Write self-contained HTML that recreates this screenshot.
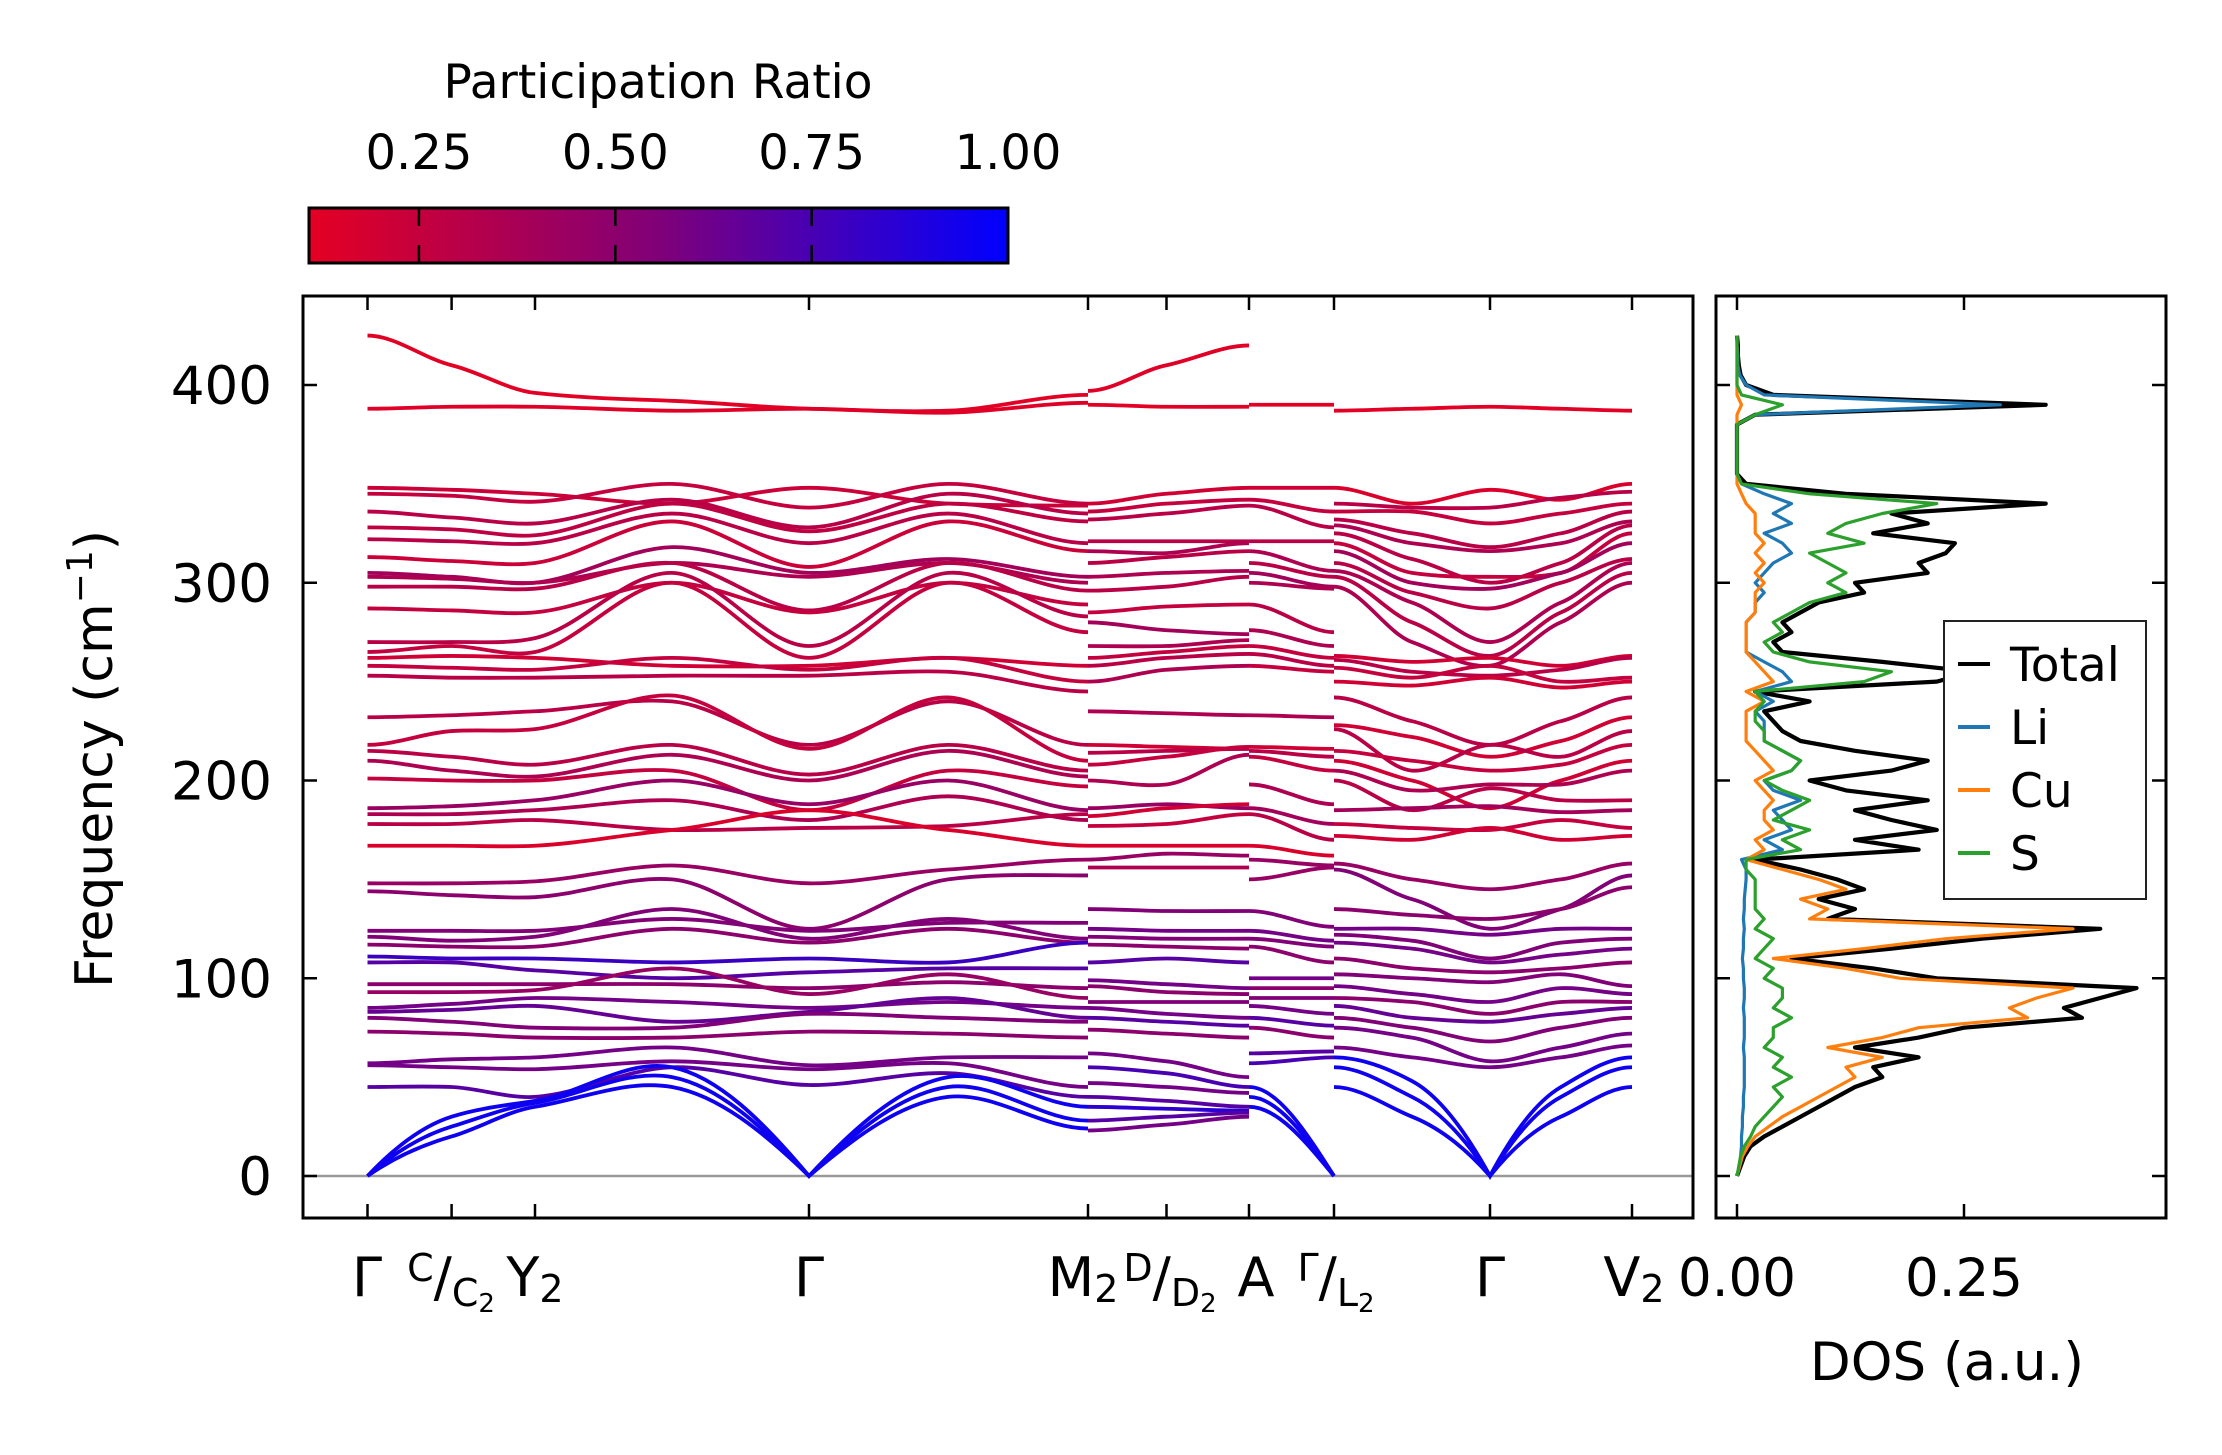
<!DOCTYPE html>
<html><head><meta charset="utf-8"><style>
html,body{margin:0;padding:0;background:#fff;}
svg{display:block;font-family:"DejaVu Sans","Liberation Sans",sans-serif;}
</style></head><body>
<svg id="chart" width="2222" height="1455" viewBox="0 0 2222 1455" xmlns="http://www.w3.org/2000/svg">
<defs>
<linearGradient id="cbgrad" x1="0" x2="1" y1="0" y2="0">
<stop offset="0" stop-color="rgb(228,0,35)"/>
<stop offset="0.5" stop-color="rgb(128,0,120)"/>
<stop offset="1" stop-color="rgb(0,0,255)"/>
</linearGradient>
<clipPath id="mainclip"><rect x="303" y="296" width="1390" height="922"/></clipPath>
<clipPath id="dosclip"><rect x="1716" y="296" width="450" height="922"/></clipPath>
</defs>
<g id="colorbar">
<text x="658" y="98" font-size="47" text-anchor="middle">Participation Ratio</text>
<rect x="309" y="208" width="699" height="55" fill="url(#cbgrad)" stroke="#000" stroke-width="3"/>
</g>
<g id="bands" clip-path="url(#mainclip)"></g>
<g id="dos" clip-path="url(#dosclip)"></g>
<g id="axes"></g>
<g id="legend"></g>
<text transform="translate(112,759) rotate(-90)" font-size="52" text-anchor="middle">Frequency (cm<tspan font-size="36" dy="-20">−1</tspan><tspan dy="20">)</tspan></text>
<text x="1947" y="1380" font-size="53" text-anchor="middle">DOS (a.u.)</text>
<g id="xlabels" font-size="54">
<text x="367" y="1296" text-anchor="middle">Γ</text>
<text x="451" y="1296" text-anchor="middle"><tspan font-size="38" dy="-15">C</tspan><tspan dy="15">/</tspan><tspan font-size="38" dy="10">C</tspan><tspan font-size="26" dy="6">2</tspan></text>
<text x="535" y="1296" text-anchor="middle">Y<tspan font-size="38" dy="6">2</tspan></text>
<text x="809" y="1296" text-anchor="middle">Γ</text>
<text x="1083" y="1296" text-anchor="middle">M<tspan font-size="38" dy="6">2</tspan></text>
<text x="1170" y="1296" text-anchor="middle"><tspan font-size="38" dy="-15">D</tspan><tspan dy="15">/</tspan><tspan font-size="38" dy="10">D</tspan><tspan font-size="26" dy="6">2</tspan></text>
<text x="1256" y="1296" text-anchor="middle">A</text>
<text x="1336" y="1296" text-anchor="middle"><tspan font-size="38" dy="-15">Γ</tspan><tspan dy="15">/</tspan><tspan font-size="38" dy="10">L</tspan><tspan font-size="26" dy="6">2</tspan></text>
<text x="1490" y="1296" text-anchor="middle">Γ</text>
<text x="1634" y="1296" text-anchor="middle">V<tspan font-size="38" dy="6">2</tspan></text>
</g>
</svg>
<script>
// ---------- Colorbar data ----------
const cbTicks = [0.25, 0.5, 0.75, 1.0];
const cbTickLabels = ["0.25", "0.50", "0.75", "1.00"];
const cbMin = 0.11, cbMax = 1.0;
// ---------- Axis data ----------
const freqTicks = [0, 100, 200, 300, 400];
const freqTickLabels = ["0", "100", "200", "300", "400"];
const kTicks = [367.5, 451.6, 535, 809, 1088, 1166.5, 1249, 1334, 1490, 1632];
const dosTicks = [0, 0.25];
const dosTickLabels = ["0.00", "0.25"];
// ---------- Band data: segment nodes (k-path positions in px along path) ----------
const segANodes = [367.5, 451.6, 535, 672, 809, 948, 1088];
const segABands = [
[425,410,396,392,388,387,395],[388,389,389,387,388,386,391],
[348,347,345,340,348,340,339],[345,344,341,350,338,350,340],[336,333,330,342,328,345,335],
[328,327,324,340,326,340,331],[322,321,320,335,320,335,320],[313,311,310,331,308,331,316],
[305,303,300,318,305,312,303],[303,302,300,310,303,310,300],[298,298,297,310,286,310,296],[287,286,285,300,285,300,289],
[270,270,272,305,268,305,283],[265,268,265,300,262,300,275],
[262,263,262,258,258,262,258],[258,257,256,262,256,262,250],[253,252,252,253,253,255,245],
[232,233,235,240,218,240,218],[218,225,226,243,216,242,210],[215,212,208,218,203,218,205],[210,205,202,213,200,215,202],[201,200,200,205,185,205,197],
[186,187,190,200,188,200,185],[183,183,185,190,180,192,180],[178,178,180,175,176,177,183],[167,167,167,175,185,175,167],
[148,148,149,157,148,155,160],[144,142,141,150,125,150,152],
[124,124,124,130,124,128,128],[121,119,121,135,120,130,120],[117,116,116,125,118,125,118],
[111,110,110,108,110,108,118],[108,108,104,100,103,105,105],
[97,97,97,97,95,98,95],[93,93,94,105,92,102,90],[85,87,90,88,85,88,85],[83,84,86,78,83,90,80],[80,78,75,75,82,80,78],[73,72,70,70,73,72,70],
[57,59,60,65,56,60,60],[56,55,54,58,54,57,45],[45,45,40,55,46,52,40],
[0,30,38,55,0,50,35],[0,25,37,50,0,45,28],[0,20,35,45,0,40,24]
];
const segAPR = [0.12,0.13,0.22,0.25,0.3,0.28,0.3,0.22,0.4,0.35,0.3,0.25,0.3,0.25,0.2,0.25,0.3,0.3,0.25,0.3,0.35,0.25,0.45,0.35,0.3,0.15,0.45,0.5,0.55,0.55,0.5,0.8,0.7,0.5,0.45,0.6,0.65,0.55,0.5,0.6,0.6,0.7,0.95,0.95,0.95];

const segBNodes = [1088, 1166.5, 1249];
const segBBands = [
[397,410,420],[390,389,389],[340,345,348],[336,340,342],[332,335,339],[321,321,321],[316,315,320],[310,313,316],
[303,305,306],[296,298,303],[285,288,289],[280,276,274],[268,268,271],[262,265,268],[258,262,264],[250,256,258],
[235,234,233],[218,217,216],[214,215,216],[208,212,217],[200,198,213],[186,188,186],[182,186,188],[177,178,183],
[167,167,167],[160,163,162],[156,156,156],[135,134,134],[125,124,124],[121,120,120],[117,116,115],[108,110,108],
[99,97,95],[96,93,92],[88,88,88],[85,82,80],[80,78,76],[74,72,70],[62,58,50],[55,52,45],[47,45,42],[40,38,35],
[35,34,33],[28,30,32],[23,26,30]
];
const segBPR = [0.13,0.12,0.2,0.25,0.3,0.3,0.35,0.3,0.35,0.3,0.25,0.4,0.35,0.25,0.3,0.35,0.35,0.2,0.3,0.25,0.35,0.45,0.2,0.25,0.15,0.45,0.35,0.55,0.6,0.55,0.5,0.7,0.6,0.5,0.55,0.6,0.7,0.5,0.6,0.75,0.6,0.7,0.85,0.7,0.6];

const segCNodes = [1249, 1334];
const segCBands = [
[390,390],[348,348],[342,336],[339,328],[321,321],[316,306],[310,303],[305,298],[300,297],[289,275],[276,268],[268,262],
[264,258],[258,255],[233,232],[217,216],[215,212],[212,205],[198,188],[186,178],[183,170],[167,162],[160,157],[150,156],
[134,126],[124,119],[120,116],[116,108],[100,100],[95,95],[90,90],[86,82],[80,76],[75,70],[62,63],[57,60],[45,0],[40,0],[35,0]
];
const segCPR = [0.12,0.2,0.25,0.3,0.3,0.35,0.3,0.4,0.35,0.3,0.35,0.25,0.3,0.25,0.35,0.2,0.3,0.25,0.35,0.4,0.3,0.15,0.45,0.45,0.55,0.6,0.55,0.5,0.6,0.5,0.55,0.6,0.7,0.5,0.7,0.75,0.95,0.95,0.95];

const segDNodes = [1334, 1412, 1490, 1561, 1632];
const segDBands = [
[387,388,389,388,387],[348,340,347,342,350],[340,338,338,343,346],[336,336,330,335,340],[332,325,318,325,336],
[329,320,316,320,331],[325,312,300,310,329],[320,305,303,305,325],[316,300,297,305,320],[310,295,287,300,312],
[306,290,270,290,310],[303,280,263,285,305],[298,270,258,280,300],[263,260,262,258,263],[261,255,253,256,262],
[257,252,258,250,252],[250,248,252,247,250],[242,230,218,230,242],[228,222,212,220,232],[226,205,218,212,225],
[215,210,205,208,218],[210,200,186,200,210],[205,195,198,198,205],[200,185,196,190,190],[185,186,187,184,185],
[178,176,175,180,176],[172,170,176,170,172],[158,150,145,150,158],[155,140,125,135,152],[135,132,130,135,146],
[125,125,122,125,125],[122,119,110,118,120],[118,115,108,112,115],[110,105,103,105,108],[102,100,98,102,96],
[96,92,88,95,92],[90,88,82,88,88],[86,80,78,82,85],[80,75,68,75,80],[75,70,58,65,72],[65,60,55,60,66],
[60,48,0,45,60],[55,40,0,40,55],[45,30,0,30,45]
];
const segDPR = [0.12,0.15,0.3,0.25,0.3,0.35,0.3,0.25,0.4,0.3,0.35,0.3,0.35,0.2,0.3,0.25,0.2,0.3,0.2,0.3,0.25,0.2,0.35,0.3,0.4,0.25,0.2,0.45,0.55,0.5,0.6,0.55,0.6,0.5,0.55,0.6,0.5,0.65,0.55,0.6,0.6,0.95,0.95,0.95];

// ---------- DOS data ----------
const dosFreq = [0,5,10,15,20,25,30,35,40,45,50,55,60,65,70,75,80,85,90,95,100,105,110,115,120,125,130,135,140,145,150,155,160,165,170,175,180,185,190,195,200,205,210,215,220,225,230,235,240,245,250,255,260,265,270,275,280,285,290,295,300,305,310,315,320,325,330,335,340,345,350,355,360,365,370,375,380,385,390,395,400,405,410,415,420,425];
const dosTotal = [0,0.004,0.008,0.015,0.03,0.05,0.07,0.09,0.11,0.13,0.16,0.15,0.2,0.13,0.2,0.25,0.38,0.36,0.40,0.44,0.22,0.15,0.06,0.17,0.27,0.40,0.10,0.13,0.09,0.14,0.11,0.07,0.02,0.20,0.13,0.22,0.17,0.13,0.21,0.12,0.08,0.17,0.21,0.13,0.07,0.05,0.04,0.03,0.08,0.02,0.22,0.26,0.16,0.05,0.04,0.06,0.05,0.07,0.09,0.14,0.13,0.21,0.20,0.23,0.24,0.15,0.21,0.17,0.34,0.12,0.01,0,0,0,0,0,0,0.02,0.34,0.04,0.01,0.004,0.002,0.001,0.001,0];
const dosLi = [0,0.003,0.004,0.005,0.005,0.006,0.006,0.007,0.007,0.008,0.008,0.008,0.008,0.007,0.008,0.008,0.008,0.007,0.008,0.008,0.007,0.007,0.006,0.007,0.007,0.008,0.007,0.008,0.008,0.009,0.01,0.01,0.005,0.05,0.03,0.06,0.05,0.04,0.07,0.04,0.03,0.06,0.07,0.05,0.03,0.03,0.03,0.02,0.04,0.02,0.06,0.05,0.03,0.01,0.01,0.01,0.01,0.02,0.02,0.03,0.02,0.03,0.04,0.06,0.05,0.03,0.06,0.04,0.06,0.03,0.005,0,0,0,0,0,0,0.02,0.29,0.03,0.01,0.003,0.001,0.001,0,0];
const dosCu = [0,0.003,0.006,0.012,0.02,0.035,0.05,0.07,0.09,0.11,0.13,0.12,0.16,0.1,0.16,0.2,0.32,0.3,0.33,0.37,0.18,0.12,0.04,0.14,0.23,0.37,0.08,0.1,0.07,0.12,0.09,0.05,0.01,0.03,0.02,0.04,0.03,0.03,0.04,0.03,0.02,0.04,0.03,0.02,0.01,0.01,0.01,0.01,0.03,0.01,0.04,0.03,0.02,0.01,0.01,0.01,0.01,0.02,0.02,0.02,0.03,0.02,0.03,0.02,0.03,0.02,0.02,0.02,0.01,0.005,0,0,0,0,0,0,0,0,0.005,0,0,0,0,0,0,0];
const dosS = [0,0.002,0.004,0.008,0.015,0.02,0.03,0.04,0.05,0.04,0.06,0.04,0.05,0.03,0.04,0.04,0.06,0.04,0.05,0.05,0.03,0.04,0.02,0.03,0.04,0.02,0.03,0.02,0.02,0.02,0.02,0.01,0.01,0.07,0.05,0.08,0.04,0.06,0.08,0.05,0.03,0.06,0.07,0.05,0.03,0.03,0.02,0.02,0.03,0.02,0.14,0.17,0.08,0.04,0.03,0.05,0.04,0.06,0.08,0.12,0.1,0.12,0.1,0.08,0.14,0.1,0.12,0.16,0.22,0.08,0.005,0,0,0,0,0,0,0.02,0.05,0.005,0,0,0,0,0,0];
const legendNames = ["Total","Li","Cu","S"];
const seriesColors = ["#000000","#1f77b4","#ff7f0e","#2ca02c"];

// ---------- Scales ----------
const NS = "http://www.w3.org/2000/svg";
const yOf = f => 1176 - f * 1.9775;
const dosX = d => 1737 + d * 908;
const cbX = v => 309 + (v - cbMin) / (cbMax - cbMin) * 699;
function prColor(pr) {
  let t = Math.max(0, Math.min(1, (pr - cbMin) / (cbMax - cbMin)));
  let r, g = 0, b;
  if (t < 0.5) { r = 228 + (128 - 228) * t * 2; b = 35 + (120 - 35) * t * 2; }
  else { r = 128 * (1 - (t - 0.5) * 2); b = 120 + (255 - 120) * (t - 0.5) * 2; }
  return `rgb(${Math.round(r)},${g},${Math.round(b)})`;
}
function mk(tag, attrs, parent) {
  const el = document.createElementNS(NS, tag);
  for (const k in attrs) el.setAttribute(k, attrs[k]);
  parent.appendChild(el);
  return el;
}
// smooth curve; nodes at zero frequency get a cusp (one-sided tangents)
function smoothPath(xs, vals) {
  const ys = vals.map(yOf);
  const n = xs.length;
  const mL = [], mR = [];
  for (let i = 0; i < n; i++) {
    const sPrev = i > 0 ? (ys[i] - ys[i - 1]) / (xs[i] - xs[i - 1]) : null;
    const sNext = i < n - 1 ? (ys[i + 1] - ys[i]) / (xs[i + 1] - xs[i]) : null;
    if (vals[i] === 0) {
      mL.push(sPrev !== null ? sPrev * 1.5 : 0);
      mR.push(sNext !== null ? sNext * 1.5 : 0);
    } else if (i === 0 || i === n - 1) {
      mL.push(0); mR.push(0);
    } else {
      const m = (ys[i + 1] - ys[i - 1]) / (xs[i + 1] - xs[i - 1]) * 0.7;
      mL.push(m); mR.push(m);
    }
  }
  let d = `M${xs[0]},${ys[0]}`;
  for (let i = 0; i < n - 1; i++) {
    const h = xs[i + 1] - xs[i];
    d += ` C${xs[i] + h / 3},${ys[i] + mR[i] * h / 3} ${xs[i + 1] - h / 3},${ys[i + 1] - mL[i + 1] * h / 3} ${xs[i + 1]},${ys[i + 1]}`;
  }
  return d;
}
const bandsG = document.getElementById('bands');
function drawSegment(nodes, bands, prs, segName) {
  bands.forEach((vals, i) => {
    const p = mk('path', { d: smoothPath(nodes, vals), fill: 'none', stroke: prColor(prs[i]), 'stroke-width': 3.8, 'stroke-linecap': 'butt' }, bandsG);
    
    
  });
}
const zl = mk('line', { x1: 303, x2: 1693, y1: yOf(0), y2: yOf(0), stroke: '#999', 'stroke-width': 2.5 }, bandsG);


drawSegment(segANodes, segABands, segAPR, 'gamma-y2-gamma-m2');
drawSegment(segBNodes, segBBands, segBPR, 'm2-d2-a');
drawSegment(segCNodes, segCBands, segCPR, 'a-gamma');
drawSegment(segDNodes, segDBands, segDPR, 'l2-gamma-v2');

// DOS
const dosG = document.getElementById('dos');
const dosSeries = [dosTotal, dosLi, dosCu, dosS];
[dosTotal, dosLi, dosCu, dosS].forEach((arr) => {
  const idx = dosSeries.indexOf(arr);
  const pts = arr.map((v, i) => `${dosX(v).toFixed(1)},${yOf(dosFreq[i]).toFixed(1)}`).join(' ');
  const pl = mk('polyline', { points: pts, fill: 'none', stroke: seriesColors[idx], 'stroke-width': idx === 0 ? 4.2 : 3.2, 'stroke-linejoin': 'round' }, dosG);
  
  
});

// Axes
const ax = document.getElementById('axes');
const mainFrame = mk('rect', { x: 303, y: 296, width: 1390, height: 922, fill: 'none', stroke: '#000', 'stroke-width': 3 }, ax);


const dosFrame = mk('rect', { x: 1716, y: 296, width: 450, height: 922, fill: 'none', stroke: '#000', 'stroke-width': 3 }, ax);


freqTicks.forEach((f, i) => {
  const y = yOf(f);
  const t = mk('line', { x1: 303, x2: 317, y1: y, y2: y, stroke: '#000', 'stroke-width': 2.5 }, ax);
  
  
  const lb = mk('text', { x: 272, y: y + 19, 'font-size': 53, 'text-anchor': 'end' }, ax);
  lb.textContent = freqTickLabels[i];
  
  
  const t2 = mk('line', { x1: 1716, x2: 1730, y1: y, y2: y, stroke: '#000', 'stroke-width': 2.5 }, ax);
  
  
  const t3 = mk('line', { x1: 2152, x2: 2166, y1: y, y2: y, stroke: '#000', 'stroke-width': 2.5 }, ax);
  
  
});
kTicks.forEach((x, i) => {
  const t = mk('line', { x1: x, x2: x, y1: 1218, y2: 1204, stroke: '#000', 'stroke-width': 2.5 }, ax);
  
  
  const t2 = mk('line', { x1: x, x2: x, y1: 296, y2: 310, stroke: '#000', 'stroke-width': 2.5 }, ax);
  
  
});
dosTicks.forEach((d, i) => {
  const x = dosX(d);
  const t = mk('line', { x1: x, x2: x, y1: 1218, y2: 1204, stroke: '#000', 'stroke-width': 2.5 }, ax);
  
  
  const t2 = mk('line', { x1: x, x2: x, y1: 296, y2: 310, stroke: '#000', 'stroke-width': 2.5 }, ax);
  
  
  const lb = mk('text', { x: x, y: 1296, 'font-size': 53, 'text-anchor': 'middle' }, ax);
  lb.textContent = dosTickLabels[i];
  
  
});

// Colorbar ticks
const cb = document.getElementById('colorbar');
cbTicks.forEach((v, i) => {
  const x = cbX(v);
  if (v < 0.999) {
    const a = mk('line', { x1: x, x2: x, y1: 208, y2: 226, stroke: '#000', 'stroke-width': 2.5 }, cb);
    
    
    const b = mk('line', { x1: x, x2: x, y1: 245, y2: 263, stroke: '#000', 'stroke-width': 2.5 }, cb);
    
    
  }
  const lb = mk('text', { x: x, y: 169, 'font-size': 48, 'text-anchor': 'middle' }, cb);
  lb.textContent = cbTickLabels[i];
  
  
});

// Legend
const lg = document.getElementById('legend');
const box = mk('rect', { x: 1944, y: 621, width: 202, height: 278, fill: '#fff', stroke: '#222', 'stroke-width': 2 }, lg);


legendNames.forEach((name, i) => {
  const y = 664 + i * 63;
  const l = mk('line', { x1: 1958, x2: 1990, y1: y, y2: y, stroke: seriesColors[i], 'stroke-width': 4 }, lg);
  
  
  const t = mk('text', { x: 2010, y: y + 17, 'font-size': 47 }, lg);
  t.textContent = name;
  
  
});
</script>
</body></html>
